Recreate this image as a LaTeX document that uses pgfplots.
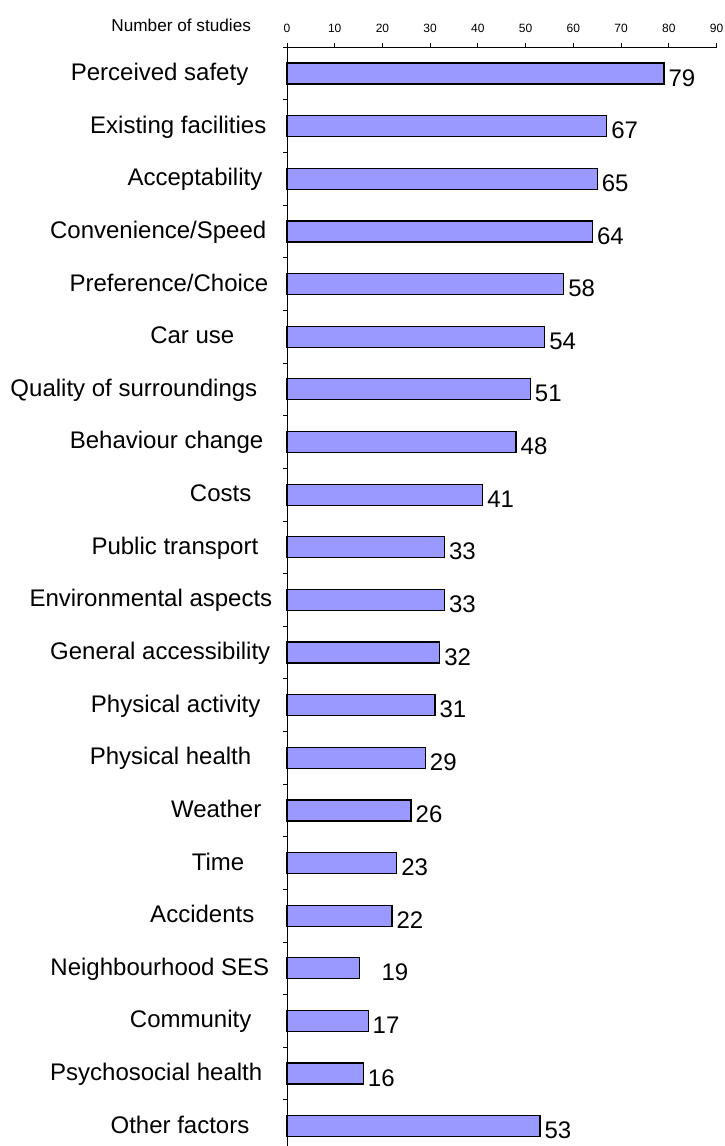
\documentclass[border=0pt]{standalone}
\usepackage{fontspec}
\setmainfont{Liberation Sans}
\usepackage{pgfplots}
\usepackage{pgfplotstable}
\pgfplotsset{compat=1.18}
\definecolor{barblue}{RGB}{153,153,255}
\newcommand\catfont{\fontsize{24}{28}\selectfont}

\pgfplotstableread{
y val lab off
20 79 79 4
19 67 67 4
18 65 65 4
17 64 64 4
16 58 58 4
15 54 54 4
14 51 51 4
13 48 48 4
12 41 41 4
11 33 33 4
10 33 33 4
9 32 32 4
8 31 31 4
7 29 29 4
6 26 26 4
5 23 23 4
4 22 22 4
3 15.2 19 21.5
2 17 17 4
1 16 16 4
0 53 53 4
}\datatable

\begin{document}
\begin{tikzpicture}
\begin{axis}[
  name=ax,
  scale only axis, width=429.5pt, height=1098.7pt,
  xmin=0, xmax=90, ymin=-0.376, ymax=20.5,
  axis x line*=top, axis y line*=left,
  axis line style={black, line width=0.9pt},
  tick align=outside,
  major tick length=4.5pt,
  every tick/.style={black, line width=0.9pt},
  /pgf/number format/assume math mode=true,
  xtick={0,10,...,90},
  xticklabel style={font=\fontsize{12}{14}\selectfont, anchor=base, inner sep=0pt, yshift=10pt},
  ytick={0.5,1.5,...,20.5},
  yticklabels={
    Other factors\kern23pt,
    Psychosocial health\kern10pt,
    Community\kern21pt,
    Neighbourhood SES\kern3pt,
    Accidents\kern18pt,
    Time\kern28pt,
    Weather\kern11pt,
    Physical health\kern21pt,
    Physical activity\kern12pt,
    General accessibility\kern2pt,
    Environmental aspects\kern0pt,
    Public transport\kern14pt,
    Costs\kern21pt,
    Behaviour change\kern9pt,
    Quality of surroundings\kern15pt,
    Car use\kern38pt,
    Preference/Choice\kern4pt,
    Convenience/Speed\kern6pt,
    Acceptability\kern10pt,
    Existing facilities\kern6pt,
    Perceived safety\kern24pt},
  yticklabel style={font=\catfont, anchor=base east, inner sep=0pt, xshift=-10pt, yshift=-33.3pt},
  xlabel={Number of studies},
  every axis x label/.style={at={(axis description cs:0,1)}, anchor=base east, inner sep=0pt, xshift=-35.8pt, yshift=16pt, font=\fontsize{17.2}{20}\selectfont},
  nodes near coords,
  point meta=explicit,
  visualization depends on={\thisrow{off} \as \myoff},
  every node near coord/.append style={font=\catfont, anchor=west, inner sep=0pt, xshift=\myoff pt, yshift=-4.3pt, black},
  clip=false,
]
\addplot[xbar, bar width=21pt, fill=barblue, draw=black, line width=1.2pt]
  table[x=val, y=y, meta=lab] {\datatable};
\end{axis}
\pgfresetboundingbox
\path[use as bounding box] ([xshift=-287pt]ax.south west) rectangle ([xshift=437pt, yshift=47.3pt]ax.north west);
\end{tikzpicture}
\end{document}
